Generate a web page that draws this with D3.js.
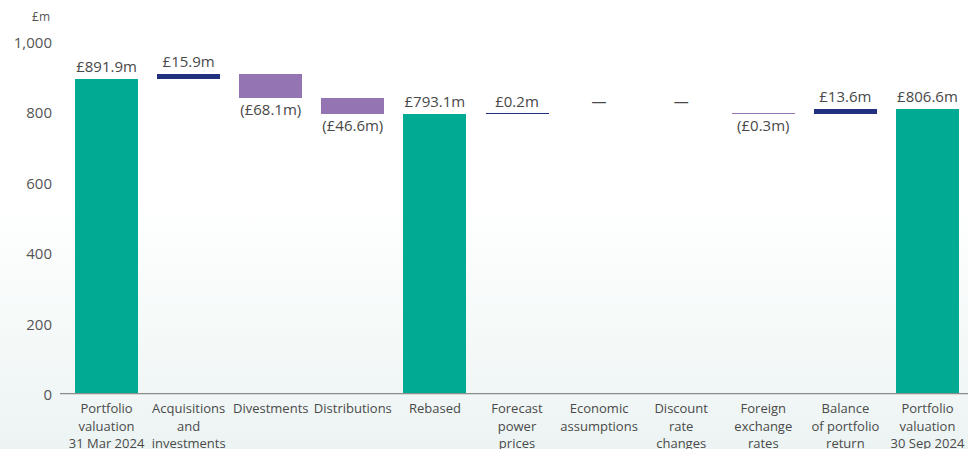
<!DOCTYPE html>
<html>
<head>
<meta charset="utf-8">
<script src="https://cdn.jsdelivr.net/npm/d3@7"></script>
<style>
  html, body { margin: 0; padding: 0; background: #fff; }
  svg { display: block; }
  text { font-family: "Open Sans", "Noto Sans", sans-serif; }
</style>
</head>
<body>
<svg id="chart" width="968" height="449"></svg>
<script>
// Portfolio valuation bridge (£m)
const categories = [
  "Portfolio\nvaluation\n31 Mar 2024",
  "Acquisitions\nand\ninvestments",
  "Divestments",
  "Distributions",
  "Rebased",
  "Forecast\npower\nprices",
  "Economic\nassumptions",
  "Discount\nrate\nchanges",
  "Foreign\nexchange\nrates",
  "Balance\nof portfolio\nreturn",
  "Portfolio\nvaluation\n30 Sep 2024"
];
const values = [891.9, 15.9, -68.1, -46.6, 793.1, 0.2, 0, 0, -0.3, 13.6, 806.6];
const kinds = ["total", "delta", "delta", "delta", "total", "delta", "delta", "delta", "delta", "delta", "total"];
const valueLabels = ["£891.9m", "£15.9m", "(£68.1m)", "(£46.6m)", "£793.1m", "£0.2m", "—", "—", "(£0.3m)", "£13.6m", "£806.6m"];
const yTicks = [0, 200, 400, 600, 800, 1000];
const unitLabel = "£m";

const colors = { total: "#00aa93", up: "#22317f", down: "#9474b2" };

const W = 968, H = 449;
const svg = d3.select("#chart");

// soft background wash towards the bottom
const defs = svg.append("defs");
const grad = defs.append("linearGradient").attr("id", "bg").attr("x1", 0).attr("y1", 0).attr("x2", 0).attr("y2", 1);
grad.append("stop").attr("offset", "0%").attr("stop-color", "#ffffff");
grad.append("stop").attr("offset", "45%").attr("stop-color", "#ffffff");
grad.append("stop").attr("offset", "100%").attr("stop-color", "#ecf4f3");
svg.append("rect").attr("width", W).attr("height", H).attr("fill", "url(#bg)");

const x = d3.scaleBand().domain(categories).range([65.5, 968.5]).paddingInner(0.233).paddingOuter(0.1165);
const y = d3.scaleLinear().domain([0, 1000]).range([393.7, 41.2]);

// running totals for the waterfall
let running = 0;
const steps = categories.map((c, i) => {
  const v = values[i];
  let start, end;
  if (kinds[i] === "total") { start = 0; end = v; running = v; }
  else { start = running; end = running + v; running = end; }
  return { cat: c, value: v, kind: kinds[i], start, end, label: valueLabels[i] };
});

// y axis
const yAxis = d3.axisLeft(y).tickValues(yTicks).tickSize(0).tickPadding(0)
  .tickFormat(d3.format(","));
const gy = svg.append("g").attr("transform", "translate(52,0)").call(yAxis);
gy.select(".domain").remove();
gy.selectAll("text").attr("font-size", 15).attr("fill", "#555").attr("dy", "0.4em")
  .style("font-family", "'Open Sans', sans-serif");

svg.append("text").attr("x", 50).attr("y", 21).attr("text-anchor", "end")
  .attr("font-size", 12).attr("fill", "#555").text(unitLabel);

// bars (very small moves still get a 1px stroke-width rule)
const bars = svg.append("g").attr("shape-rendering", "crispEdges");
steps.forEach(s => {
  if (s.value === 0) return;
  const top = Math.round(y(Math.max(s.start, s.end)));
  const bot = Math.round(y(Math.min(s.start, s.end)));
  const h = Math.max(bot - top, 1);
  const fill = s.kind === "total" ? colors.total : (s.value > 0 ? colors.up : colors.down);
  bars.append("rect")
    .attr("x", Math.round(x(s.cat))).attr("width", Math.round(x.bandwidth()))
    .attr("y", bot - h).attr("height", h)
    .attr("fill", fill);
});

// value labels
const labels = svg.append("g").attr("font-size", 15).attr("fill", "#484848").attr("text-anchor", "middle");
steps.forEach(s => {
  const cx = x(s.cat) + x.bandwidth() / 2;
  if (s.value < 0) {
    labels.append("text").attr("x", cx).attr("y", y(Math.min(s.start, s.end)) + 17).text(s.label);
  } else {
    const top = y(Math.max(s.start, s.end));
    labels.append("text").attr("x", cx).attr("y", Math.min(top, y(s.end) - 1) - 6).text(s.label);
  }
});

// x axis baseline
svg.append("line").attr("x1", 60).attr("x2", W).attr("y1", y(0)).attr("y2", y(0))
  .attr("stroke", "#8c8c8c").attr("stroke-width", 1.3);

// category labels
const xAxis = d3.axisBottom(x).tickSize(0).tickPadding(0);
const gx = svg.append("g").attr("transform", `translate(0,${y(0)})`).call(xAxis);
gx.select(".domain").remove();
gx.selectAll(".tick text").each(function(d) {
  const t = d3.select(this);
  t.text(null).attr("y", 0).attr("dy", null)
    .attr("font-size", 13).attr("fill", "#4a4a4a")
    .style("font-family", "'Open Sans', sans-serif");
  d.split("\n").forEach((line, i) => {
    t.append("tspan").attr("x", 0).attr("y", 19.5 + i * 17.5).text(line);
  });
});
</script>
</body>
</html>
